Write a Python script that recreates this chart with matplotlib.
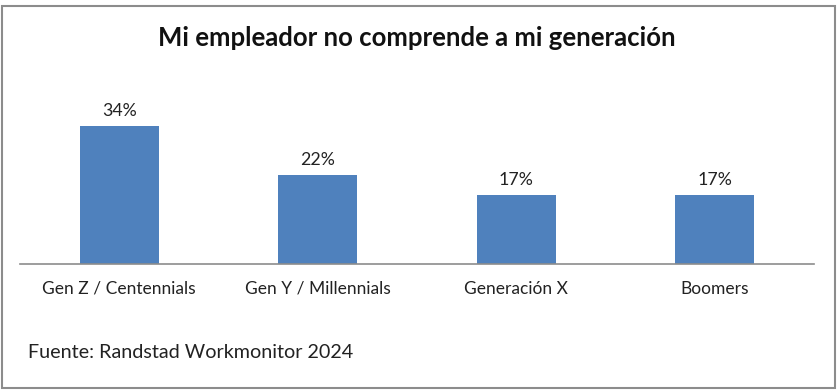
import matplotlib.pyplot as plt
from matplotlib.patches import Rectangle
import numpy as np

categories = ['Gen Z / Centennials', 'Gen Y / Millennials', 'Generación X', 'Boomers']
values = [34, 22, 17, 17]
value_labels = ['34%', '22%', '17%', '17%']
title = 'Mi empleador no comprende a mi generación'
source = 'Fuente: Randstad Workmonitor 2024'

plt.rcParams['font.family'] = ['Lato', 'DejaVu Sans']

fig = plt.figure(figsize=(8.38, 3.9), dpi=100)
ax = fig.add_axes([20 / 838, 126 / 390, 794 / 838, 162 / 390])

x = np.arange(len(categories))
ax.bar(x, values, width=0.4, color='#4f81bd')
ax.set_xlim(-0.5, len(categories) - 0.5)
ax.set_ylim(0, 40)

for xi, v, lab in zip(x, values, value_labels):
    ax.annotate(lab, (xi, v), xytext=(0, 5), textcoords='offset points',
                ha='center', va='bottom', fontsize=12.8, color='#222222')

ax.set_xticks(x)
ax.set_xticklabels(categories, fontsize=12.5, color='#222222')
ax.tick_params(axis='x', length=0, pad=12)
ax.set_yticks([])
for s in ['top', 'right', 'left']:
    ax.spines[s].set_visible(False)
ax.spines['bottom'].set_color('#8c8c8c')
ax.spines['bottom'].set_linewidth(1.2)

fig.text(417 / 838, 1 - 38 / 390, title, ha='center', va='center',
         fontsize=18.5, fontweight='bold', color='#111111')
fig.text(28 / 838, 1 - 352 / 390, source, ha='left', va='center',
         fontsize=14.2, color='#222222')

fig.patches.append(Rectangle((1.5 / 838, 2 / 390), 833 / 838, 382 / 390,
                             transform=fig.transFigure, fill=False,
                             edgecolor='#8c8c8c', linewidth=1.5))

fig.savefig('out.png', dpi=100)
